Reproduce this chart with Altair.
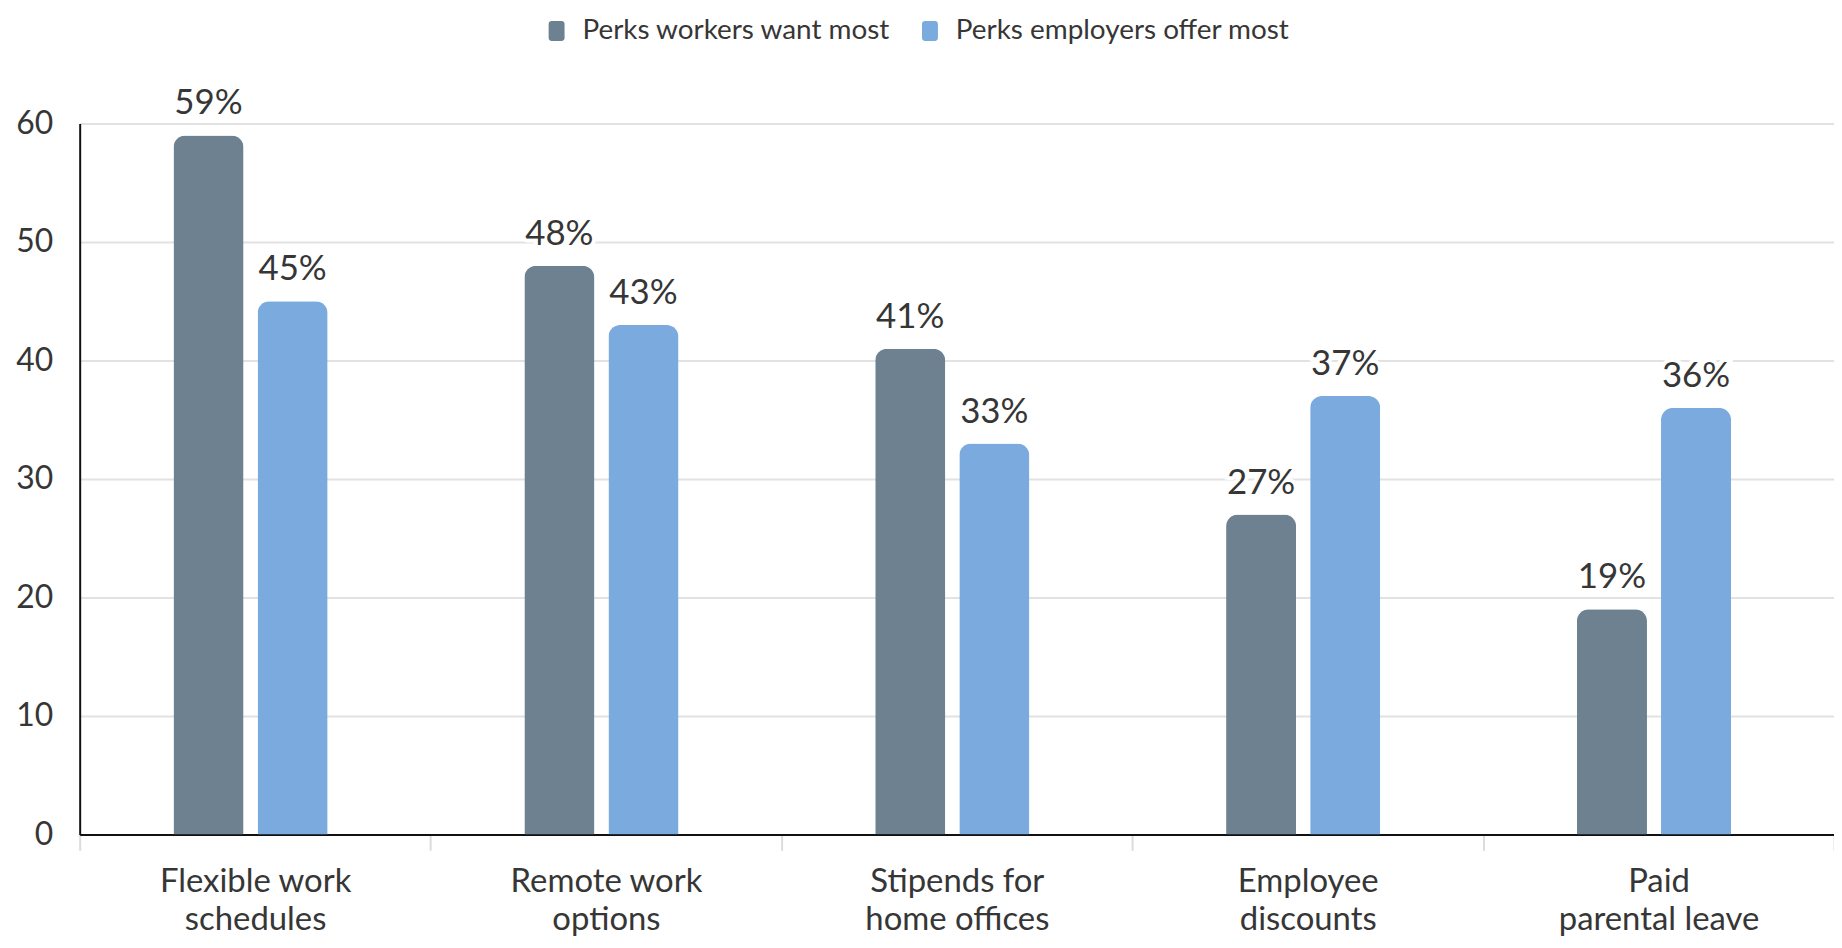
import altair as alt
import pandas as pd

categories = ["Flexible work\nschedules", "Remote work\noptions", "Stipends for\nhome offices",
              "Employee\ndiscounts", "Paid\nparental leave"]
series = ["Perks workers want most", "Perks employers offer most"]
workers_want = [59, 48, 41, 27, 19]
employers_offer = [45, 43, 33, 37, 36]
colors = ["#6d8190", "#7aaade"]
y_ticks = [0, 10, 20, 30, 40, 50, 60]

rows = []
for c, w, e in zip(categories, workers_want, employers_offer):
    rows.append({"category": c, "series": series[0], "value": w})
    rows.append({"category": c, "series": series[1], "value": e})
df = pd.DataFrame(rows)
df["label"] = df["value"].astype(str) + "%"

FONT = "Lato"
TXT = "#363636"

x = alt.X("category:N", sort=categories, title=None,
          scale=alt.Scale(paddingInner=0, paddingOuter=0),
          axis=alt.Axis(labelExpr="split(datum.label, '\\n')", labelAngle=0,
                        labelFontSize=33, labelFont=FONT, labelColor=TXT, labelLimit=500,
                        labelLineHeight=38, labelPadding=15, labelBaseline="top",
                        tickBand="extent", tickSize=16, tickWidth=2, tickColor="#dcdcdc",
                        domainColor="#111111", domainWidth=2, grid=False))
# empty slots on either side of each pair of bars
xo = alt.XOffset("series:N",
                 scale=alt.Scale(domain=["_left"] + series + ["_right"],
                                 paddingInner=0.167, paddingOuter=0.17, align=0.34))
y = alt.Y("value:Q", title=None, scale=alt.Scale(domain=[0, 60], nice=False),
          axis=alt.Axis(values=y_ticks, ticks=False, labelFontSize=32, labelFont=FONT,
                        labelColor=TXT, labelPadding=27, domainColor="#111111", domainWidth=2,
                        gridColor="#e2e2e2", gridWidth=2))

base = alt.Chart(df)

rounded = ("M-0.8,-0.7A0.3,0.3 0 0 1 -0.5,-1H0.5A0.3,0.3 0 0 1 0.8,-0.7V0.7"
           "A0.3,0.3 0 0 1 0.5,1H-0.5A0.3,0.3 0 0 1 -0.8,0.7Z")

bars = base.mark_bar(cornerRadiusTopLeft=12, cornerRadiusTopRight=12).encode(
    x=x, xOffset=xo, y=y,
    color=alt.Color("series:N", sort=series, title=None,
                    scale=alt.Scale(domain=series, range=colors),
                    legend=alt.Legend(orient="none", legendX=465, legendY=-107,
                                      direction="horizontal", labelFontSize=28, labelFont=FONT,
                                      labelColor=TXT, labelLimit=600, symbolType=rounded,
                                      symbolSize=400, symbolStrokeWidth=0, labelOffset=12,
                                      columnPadding=25)),
)

label_bg = base.mark_text(baseline="bottom", dy=-14, fontSize=35, font=FONT,
                          stroke="white", strokeWidth=8, fill="white").encode(
    x=x, xOffset=xo, y=y, text="label:N")
labels = base.mark_text(baseline="bottom", dy=-14, fontSize=35, font=FONT, color=TXT).encode(
    x=x, xOffset=xo, y=y, text="label:N")

chart = alt.layer(bars, label_bg, labels).properties(
    width=1762, height=714,
    autosize=alt.AutoSizeParams(type="none"),
    padding={"left": 72, "top": 114, "right": 0, "bottom": 110},
).configure_view(stroke=None)

chart.save("out.html", embed_options={"renderer": "svg", "actions": False})
